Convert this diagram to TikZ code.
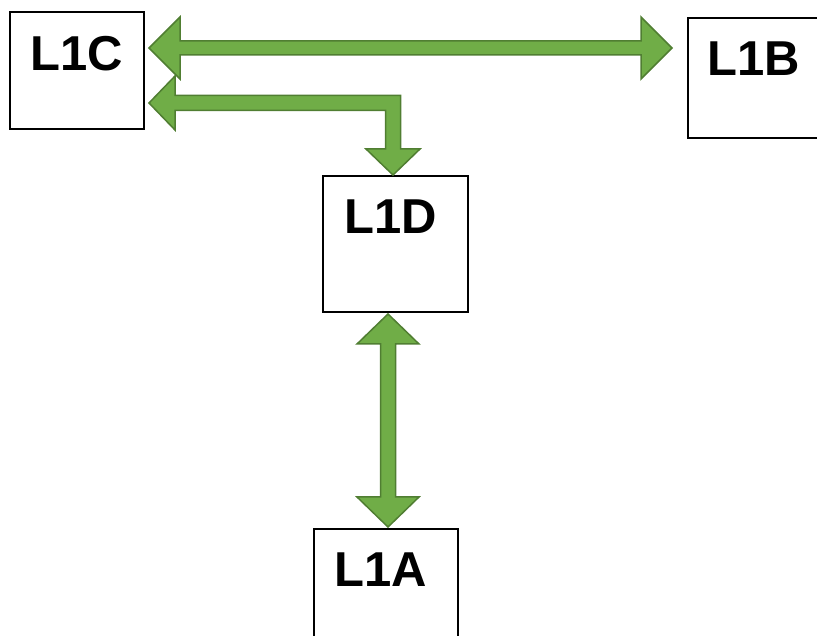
\documentclass[tikz,border=0pt]{standalone}
\usepackage{fontspec}
\setmainfont{Liberation Sans}
\usetikzlibrary{positioning,calc}
\definecolor{arrowfill}{HTML}{70AD47}
\definecolor{arrowedge}{HTML}{507E32}

\begin{document}
\begin{tikzpicture}[x=1pt, y=1pt,
    box/.style={draw=black, line width=2pt, fill=white, inner sep=0pt},
    tag/.style={label={[anchor=north, inner sep=0pt, yshift=-25pt, font=\fontsize{49}{58}\selectfont\bfseries]north:#1}},
    tagl/.style={label={[anchor=north, inner sep=0pt, xshift=-5pt, yshift=-25pt, font=\fontsize{49}{58}\selectfont\bfseries]north:#1}},
    fat/.style={fill=arrowfill, draw=arrowedge, line width=1.5pt, line join=miter}]
          \useasboundingbox (0,0) rectangle (817,635);
          \clip (0,0) rectangle (817,635);
          % boxes
          \node[box, tag=L1C, minimum width=134, minimum height=117] (c) at (77, 564.5) {};
          \node[box, tag=L1B, minimum width=131, minimum height=120] (b) at (753.5, 557) {};
          \node[box, tagl=L1D, minimum width=145, minimum height=136] (d) at (395.5, 391) {};
          \node[box, tagl=L1A, minimum width=144, minimum height=121] (a) at (386, 45.5) {};
          % C <-> B
          \coordinate (cbl) at ($(c.east)+(4,22.5)$);
          \coordinate (cbr) at ($(b.west)+(-15,30)$);
          \draw[fat] (cbl) -- ++(31,31) -- ++(0,-24) -- ($(cbr)+(-31,7)$) -- ++(0,24) -- (cbr)
                -- ++(-31,-31) -- ++(0,24) -- ($(cbl)+(31,-7)$) -- ++(0,-24) -- cycle;
          % C <- -> D (bent)
          \coordinate (cdl) at ($(c.east)+(4,-32.5)$);
          \coordinate (cdd) at ($(d.north)+(-2.5,0)$);
          \coordinate (cdk) at (cdd |- cdl);
          \draw[fat] (cdl) -- ++(26,27) -- ++(0,-19.5) -- ($(cdk)+(7.5,7.5)$) -- ($(cdd)+(7.5,26)$)
                -- ++(19.5,0) -- (cdd) -- ++(-27,26) -- ++(19.5,0) -- ($(cdk)+(-7.5,-7.5)$)
                -- ($(cdl)+(26,-7.5)$) -- ++(0,-19.5) -- cycle;
          % D <-> A
          \coordinate (dat) at ($(d.south)+(-7.5,-1)$);
          \coordinate (dab) at ($(dat |- a.north)+(0,1)$);
          \draw[fat] (dat) -- ++(31,-30) -- ++(-23.5,0) -- ($(dab)+(7.5,30)$) -- ++(23.5,0) -- (dab)
                -- ++(-31,30) -- ++(23.5,0) -- ($(dat)+(-7.5,-30)$) -- ++(-23.5,0) -- cycle;
        \end{tikzpicture}
\end{document}
